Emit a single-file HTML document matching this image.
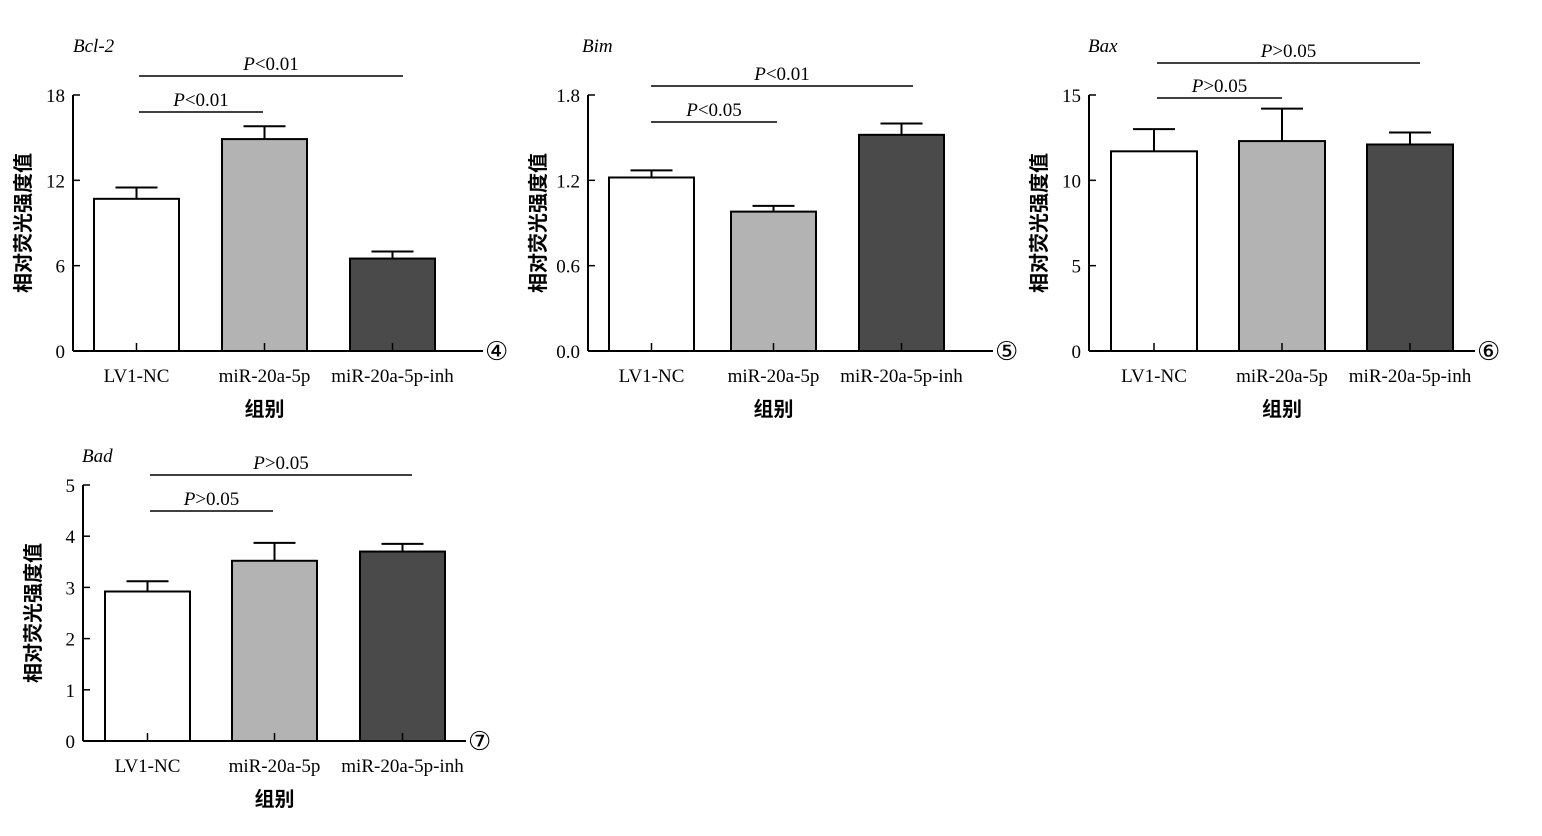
<!DOCTYPE html>
<html><head><meta charset="utf-8">
<style>
html,body{margin:0;padding:0;background:#fff;}
svg{display:block;font-family:"Liberation Serif","Noto Serif CJK SC",serif;}
.tick{font-size:19px;}
.cat{font-size:19px;}
.cn{font-family:"Liberation Sans","Noto Sans CJK SC",sans-serif;font-size:20px;font-weight:bold;}
.pl{font-size:19px;}
</style></head>
<body>
<svg id="fig" width="1542" height="836" viewBox="0 0 1542 836" xmlns="http://www.w3.org/2000/svg"></svg>
<script>
const categories = ["LV1-NC","miR-20a-5p","miR-20a-5p-inh"];
const fills = ["#ffffff","#b3b3b3","#4a4a4a"];
const bcl2Values = [10.7, 14.9, 6.5];
const bcl2Errors = [0.8, 0.9, 0.5];
const bcl2Ticks = [0, 6, 12, 18];
const bimValues = [1.22, 0.98, 1.52];
const bimErrors = [0.05, 0.04, 0.08];
const bimTicks = ["0.0", "0.6", "1.2", "1.8"];
const baxValues = [11.7, 12.3, 12.1];
const baxErrors = [1.3, 1.9, 0.7];
const baxTicks = [0, 5, 10, 15];
const badValues = [2.92, 3.52, 3.70];
const badErrors = [0.2, 0.35, 0.15];
const badTicks = [0, 1, 2, 3, 4, 5];

const panels = [
 {name:"bcl-2",title:"Bcl-2",num:"④",ax:73,top:95,bot:351,xend:483,bx:[94,222,350],bw:85,vals:bcl2Values,errs:bcl2Errors,ticks:bcl2Ticks,max:18,
  sig:[{y:76,x1:139,x2:403,t:"P<0.01"},{y:112,x1:139,x2:263,t:"P<0.01"}],tx:73,ty:52},
 {name:"bim",title:"Bim",num:"⑤",ax:588,top:95,bot:351,xend:993,bx:[609,731,859],bw:85,vals:bimValues,errs:bimErrors,ticks:bimTicks,max:1.8,
  sig:[{y:86,x1:651,x2:913,t:"P<0.01"},{y:122,x1:651,x2:777,t:"P<0.05"}],tx:582,ty:52},
 {name:"bax",title:"Bax",num:"⑥",ax:1089,top:95,bot:351,xend:1475,bx:[1111,1239,1367],bw:86,vals:baxValues,errs:baxErrors,ticks:baxTicks,max:15,
  sig:[{y:63,x1:1157,x2:1420,t:"P>0.05"},{y:98,x1:1157,x2:1282,t:"P>0.05"}],tx:1088,ty:52},
 {name:"bad",title:"Bad",num:"⑦",ax:83,top:485,bot:741,xend:466,bx:[105,232,360],bw:85,vals:badValues,errs:badErrors,ticks:badTicks,max:5,
  sig:[{y:475,x1:150,x2:412,t:"P>0.05"},{y:511,x1:150,x2:273,t:"P>0.05"}],tx:82,ty:462}
];
const NS="http://www.w3.org/2000/svg";
const svg=document.getElementById("fig");
function mk(tag,attrs,parent){const e=document.createElementNS(NS,tag);for(const k in attrs)e.setAttribute(k,attrs[k]);(parent||svg).appendChild(e);return e;}
panels.forEach(p=>{
  const g=mk("g",{});
  
  
  const y=v=>p.bot-(v/p.max)*(p.bot-p.top);
  // bars
  p.vals.forEach((v,i)=>{
    const cx=p.bx[i]+p.bw/2;
    const el=mk("line",{x1:cx,x2:cx,y1:y(v),y2:y(v+p.errs[i]),stroke:"#000","stroke-width":2},g);
    
    
    const cap=mk("line",{x1:cx-21,x2:cx+21,y1:y(v+p.errs[i]),y2:y(v+p.errs[i]),stroke:"#000","stroke-width":2},g);
    
    
    const r=mk("rect",{x:p.bx[i],y:y(v),width:p.bw,height:p.bot-y(v),fill:fills[i],stroke:"#000","stroke-width":2},g);
    
    
    const tk=mk("line",{x1:cx,x2:cx,y1:p.bot,y2:p.bot-8,stroke:"#000","stroke-width":1.5},g);
    
    
    const t=mk("text",{x:cx,y:p.bot+31,"text-anchor":"middle",class:"cat"},g);
    t.textContent=categories[i];
    
    
  });
  // axes
  const ya=mk("line",{x1:p.ax,x2:p.ax,y1:p.top,y2:p.bot,stroke:"#000","stroke-width":2},g);
  
  
  const xa=mk("line",{x1:p.ax,x2:p.xend,y1:p.bot,y2:p.bot,stroke:"#000","stroke-width":2},g);
  
  
  p.ticks.forEach(tv=>{
    const yy=y(parseFloat(tv));
    const tl=mk("line",{x1:p.ax,x2:p.ax+7,y1:yy,y2:yy,stroke:"#000","stroke-width":1.5},g);
    
    
    const tt=mk("text",{x:p.ax-8,y:yy+7,"text-anchor":"end",class:"tick"},g);
    tt.textContent=tv;
    
    
  });
  // significance
  p.sig.forEach(s=>{
    const l=mk("line",{x1:s.x1,x2:s.x2,y1:s.y,y2:s.y,stroke:"#000","stroke-width":1.5},g);
    
    
    const t=mk("text",{x:(s.x1+s.x2)/2,y:s.y-6,"text-anchor":"middle",class:"pl"},g);
    t.innerHTML='<tspan font-style="italic">P</tspan>'+s.t.slice(1);
    
    
  });
  const ti=mk("text",{x:p.tx,y:p.ty,"font-style":"italic","font-size":19},g);
  ti.textContent=p.title;
  
  
  const nm=mk("text",{x:p.xend+2,y:p.bot+9,"font-size":26,"font-family":"DejaVu Sans, sans-serif"},g);
  nm.textContent=p.num;
  
  
  const yl=mk("text",{x:0,y:0,"text-anchor":"middle",class:"cn",transform:`translate(${p.ax-43},${(p.top+p.bot)/2}) rotate(-90)`},g);
  yl.textContent="相对荧光强度值";
  
  
  const xl=mk("text",{x:p.bx[1]+p.bw/2,y:p.bot+65,"text-anchor":"middle",class:"cn"},g);
  xl.textContent="组别";
  
  
});
</script>
</body></html>
